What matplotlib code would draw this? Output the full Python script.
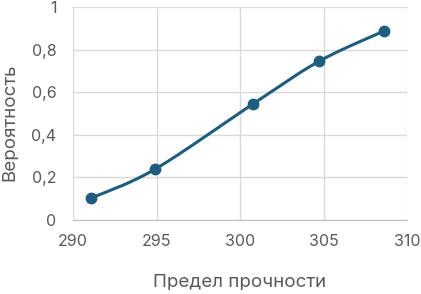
import numpy as np
import matplotlib
matplotlib.use("Agg")
import matplotlib.pyplot as plt
from matplotlib.ticker import FuncFormatter

strength = [291.1, 294.9, 300.8, 304.75, 308.65]
probability = [0.103, 0.238, 0.546, 0.746, 0.888]
x_ticks = [290, 295, 300, 305, 310]
y_ticks = [0, 0.2, 0.4, 0.6, 0.8, 1.0]

plt.rcParams['font.family'] = ['Inter', 'DejaVu Sans']

def smooth(xs, ys, n=40, t=1/6):
    xs = np.asarray(xs, float); ys = np.asarray(ys, float)
    px = np.concatenate([[xs[0]], xs, [xs[-1]]])
    py = np.concatenate([[ys[0]], ys, [ys[-1]]])
    ox, oy = [], []
    for i in range(1, len(px) - 2):
        p0 = np.array([px[i-1], py[i-1]]); p1 = np.array([px[i], py[i]])
        p2 = np.array([px[i+1], py[i+1]]); p3 = np.array([px[i+2], py[i+2]])
        c1 = p1 + (p2 - p0) * t
        c2 = p2 - (p3 - p1) * t
        s = np.linspace(0, 1, n)[:, None]
        pts = (1-s)**3*p1 + 3*(1-s)**2*s*c1 + 3*(1-s)*s**2*c2 + s**3*p2
        ox.extend(pts[:, 0]); oy.extend(pts[:, 1])
    return ox, oy

fig = plt.figure(figsize=(4.21, 2.94), dpi=100)
ax = fig.add_axes([73/421, 1-220/294, (407-73)/421, (220-7)/294])
color = '#1d5e80'
sx, sy = smooth(strength, probability)
ax.plot(sx, sy, color=color, lw=2.2, zorder=3, solid_capstyle='round')
ax.plot(strength, probability, 'o', color=color, ms=7.5, zorder=4)

ax.set_xlim(290, 310)
ax.set_ylim(0, 1)
ax.set_xticks(x_ticks)
ax.set_yticks(y_ticks)
ax.yaxis.set_major_formatter(FuncFormatter(lambda v, p: ('%g' % v).replace('.', ',')))
ax.grid(True, color='#d9d9d9', lw=1)
for s in ['top', 'right', 'left']:
    ax.spines[s].set_visible(False)
ax.spines['bottom'].set_color('#bfbfbf')
ax.tick_params(length=0, labelsize=11.5, labelcolor='#595959', pad=10)
ax.tick_params(axis='y', pad=12)
ax.set_xlabel('Предел прочности', fontsize=13.5, color='#595959')
ax.set_ylabel('Вероятность', fontsize=13.5, color='#595959')
ax.xaxis.set_label_coords(240/421 - 73/421, 0, transform=fig.transFigure)
ax.xaxis.set_label_coords(240/421, 1-283/294, transform=fig.transFigure)
ax.yaxis.set_label_coords(9.5/421, 1-122/294, transform=fig.transFigure)
ax.xaxis.label.set_va('center')
ax.yaxis.label.set_va('center')
ax.set_axisbelow(True)
fig.savefig('out.png', dpi=100)
